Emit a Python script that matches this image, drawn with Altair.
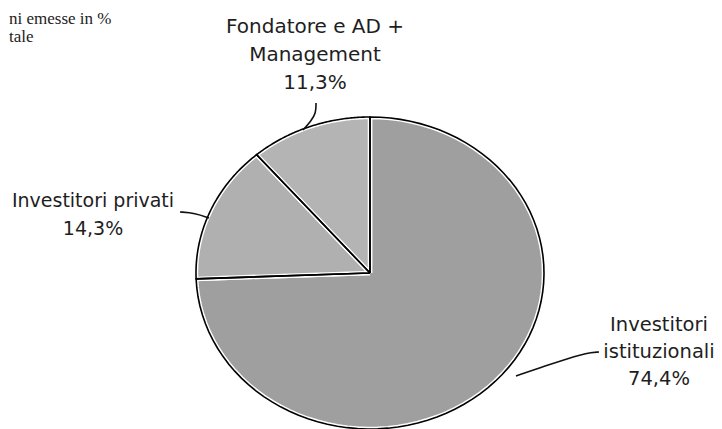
import altair as alt
import pandas as pd

# ---- data -------------------------------------------------------------
categories = ["Investitori istituzionali", "Investitori privati", "Fondatore e AD + Management"]
shares = [74.4, 14.3, 11.3]
slice_colors = ["#9f9f9f", "#b0b0b0", "#b4b4b4"]

label_lines = [
    ["Investitori", "istituzionali", "74,4%"],
    ["Investitori privati", "14,3%"],
    ["Fondatore e AD +", "Management", "11,3%"],
]
corner_lines = ["ni emesse in %", "tale"]

# ---- layout (page pixel coordinates) ----------------------------------
W, H = 706, 421
CX, CY, RX, RY = 370, 273, 174, 156
label_pos = [  # center x, first baseline, line step, font size
    (659, 331, 27, 19.5),
    (93, 207, 28, 19),
    (315, 33, 28, 20),
]
leaders = [
    [(516, 376), (545, 366), (570, 358), (586, 353), (599, 352)],
    [(180, 212), (195, 213), (209, 218)],
    [(316, 103), (316, 113), (311, 121), (303, 130)],
]

xs = alt.Scale(domain=[8, 8 + W], nice=False, zero=False)
ys = alt.Scale(domain=[8, 8 + H], nice=False, zero=False, reverse=True)

# ---- pie as elliptical wedges (derived from shares via transforms) ----
pie_df = pd.DataFrame({"cat": categories, "share": shares, "idx": list(range(len(shares)))})
N = 80
pie_base = (
    alt.Chart(pie_df)
    .transform_joinaggregate(total="sum(share)")
    .transform_window(cum="sum(share)", sort=[alt.SortField("idx")], frame=[None, 0])
    .transform_calculate(
        start="(datum.cum - datum.share) / datum.total",
        end="datum.cum / datum.total",
        steps=f"sequence(0, {N + 3})",
    )
    .transform_flatten(["steps"])
    .transform_calculate(
        frac=f"datum.start + (datum.end - datum.start) * clamp(datum.steps - 1, 0, {N}) / {N}",
        r=f"(datum.steps == 0 || datum.steps == {N + 2}) ? 0 : 1",
    )
    .transform_calculate(
        px=f"{CX} + {RX} * datum.r * sin(2 * PI * datum.frac)",
        py=f"{CY} - {RY} * datum.r * cos(2 * PI * datum.frac)",
    )
)
enc = dict(
    x=alt.X("px:Q", scale=xs, axis=None),
    y=alt.Y("py:Q", scale=ys, axis=None),
    order=alt.Order("steps:Q"),
    detail="cat:N",
)
pie_fill = pie_base.mark_line(filled=True, stroke="white", strokeWidth=4.5, strokeJoin="round").encode(
    color=alt.Color("cat:N", scale=alt.Scale(domain=categories, range=slice_colors), legend=None),
    **enc,
)
pie_edge = pie_base.mark_line(stroke="black", strokeWidth=1.6, strokeJoin="miter").encode(**enc)

# ---- leader lines -------------------------------------------------------
lead_rows = []
for g, pts in enumerate(leaders):
    for k, (x, y) in enumerate(pts):
        lead_rows.append({"g": g, "k": k, "x": x, "y": y})
lead = (
    alt.Chart(pd.DataFrame(lead_rows))
    .mark_line(stroke="#111", strokeWidth=1.6, interpolate="basis")
    .encode(x=alt.X("x:Q", scale=xs, axis=None), y=alt.Y("y:Q", scale=ys, axis=None),
            order="k:Q", detail="g:N")
)

# ---- labels -------------------------------------------------------------
lab_rows = []
for lines, (x, y0, step, fs) in zip(label_lines, label_pos):
    for i, t in enumerate(lines):
        lab_rows.append({"t": t, "x": x, "y": y0 + i * step, "fs": fs})
labels = (
    alt.Chart(pd.DataFrame(lab_rows))
    .mark_text(font="DejaVu Sans", color="#1e1e1e", align="center", baseline="alphabetic")
    .encode(x=alt.X("x:Q", scale=xs, axis=None), y=alt.Y("y:Q", scale=ys, axis=None), text="t:N",
            size=alt.Size("fs:Q", scale=None, legend=None))
)

corner_rows = [{"t": t, "x": 9, "y": 24 + i * 18} for i, t in enumerate(corner_lines)]
corner = (
    alt.Chart(pd.DataFrame(corner_rows))
    .mark_text(font="Liberation Serif", fontSize=17, color="#222", align="left", baseline="alphabetic")
    .encode(x=alt.X("x:Q", scale=xs, axis=None), y=alt.Y("y:Q", scale=ys, axis=None), text="t:N")
)

chart = (
    alt.layer(pie_fill, pie_edge, lead, labels, corner)
    .properties(width=W, height=H, padding=0, autosize=alt.AutoSizeParams(type="none"), background="white")
    .configure_view(stroke=None)
)
chart.save("out.html", embed_options={"renderer": "svg", "actions": False})
